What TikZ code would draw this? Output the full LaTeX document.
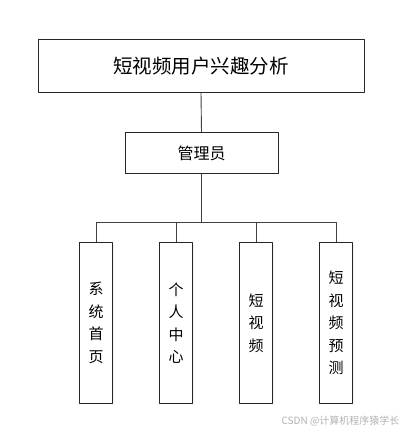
\documentclass[tikz,border=0pt]{standalone}
\usepackage{fontspec}
\setmainfont{Noto Sans CJK SC}
\usetikzlibrary{shadows}
\tikzset{
	box/.style={draw=black!85, line width=.9pt, fill=white, inner sep=0pt, align=center,
		drop shadow={shadow xshift=.8pt, shadow yshift=-.8pt, fill=blue!6, opacity=1}},
	subbox/.style={box, minimum width=33.4, minimum height=160.6, font=\fontsize{15}{22.5}\selectfont},
	link/.style={draw=black!75, line width=.9pt}
}
\begin{document}
\begin{tikzpicture}[x=1pt, y=-1pt, line join=round]
	\useasboundingbox (0,0) rectangle (406,433);
	\node[box, minimum width=326, minimum height=53.3, font=\fontsize{19.5}{22}\selectfont](top) at (201,65.7){短视频用户兴趣分析};
	\node[box, minimum width=153, minimum height=40.6, font=\fontsize{16}{18}\selectfont](admin) at (201.5,153){管理员};
	\coordinate (bar) at (201.5,222.7);
	\foreach \n/\x/\t in {home/96/{系\\统\\首\\页}, user/176/{个\\人\\中\\心}, video/256/{短\\视\\频}, pred/336/{短\\视\\频\\预\\测}}{
		\node[subbox](\n) at (\x,323){\t};
		\draw[link](bar) -| (\n.north);
	}
	\draw[link](top.south) -- (admin.north);
	\draw[link](admin.south) -- (bar);
	\node[anchor=east, text=black!30, font=\fontsize{10}{12}\selectfont](mark) at (403,421){CSDN @计算机程序猿学长};
\end{tikzpicture}
\end{document}
